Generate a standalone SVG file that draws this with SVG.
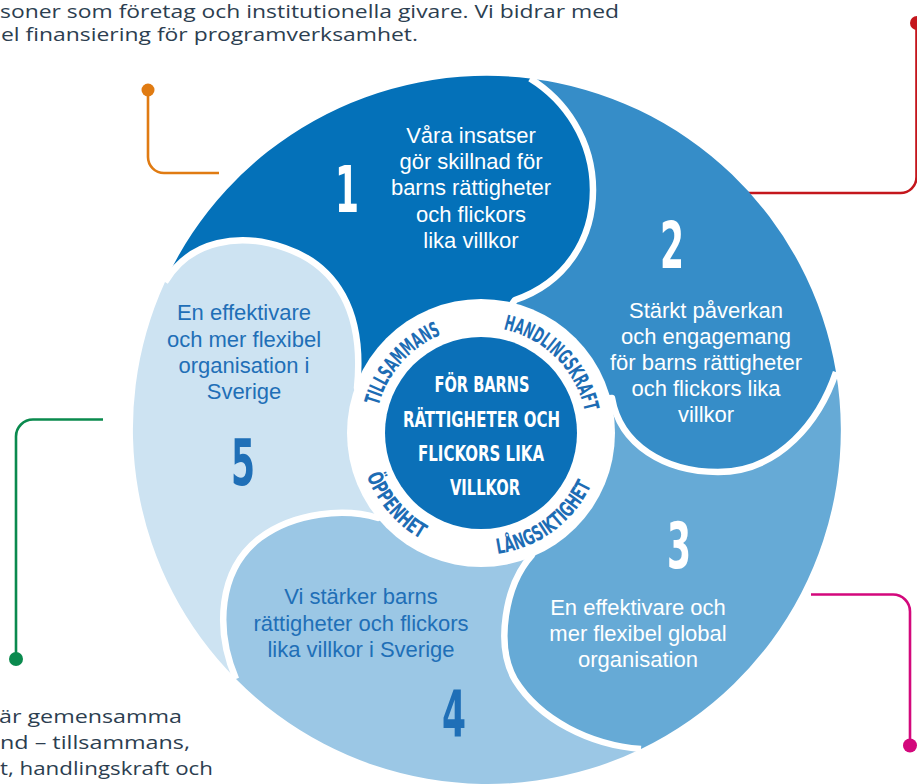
<svg xmlns="http://www.w3.org/2000/svg" width="917" height="784" viewBox="0 0 917 784">
<defs>
<style>
.pt{font-family:"Liberation Sans",Arial,Helvetica,sans-serif;font-size:22px;text-anchor:middle}
.w{fill:#ffffff}
.b{fill:#1f6fb7}
.num{font-family:"Liberation Sans Narrow","DejaVu Sans Condensed","Liberation Sans",sans-serif;font-weight:bold;font-size:64px;text-anchor:middle}
.ring{font-family:"Liberation Sans Narrow","DejaVu Sans Condensed","Liberation Sans",sans-serif;font-weight:bold;font-size:21px;fill:#1d6cb4}
.ctr{font-family:"Liberation Sans Narrow","DejaVu Sans Condensed","Liberation Sans",sans-serif;font-weight:bold;font-size:22px;fill:#ffffff;text-anchor:middle}
.sep{fill:none;stroke:#ffffff;stroke-width:6.5;stroke-linejoin:round}
.body{font-family:"Open Sans","Lato","Liberation Sans",sans-serif;font-size:19px;fill:#2c3e50}
.con{fill:none;stroke-width:2.6}
</style>
<path id="arcT" d="M378.6,405.6 A106,106 0 0 1 462.6,328.6"/>
<path id="arcH" d="M503.4,329.4 A106,106 0 0 1 587,433"/>
<path id="arcO" d="M366.7,475.7 A122,122 0 0 0 459.8,553.1"/>
<path id="arcL" d="M497.6,553.9 A122,122 0 0 0 601.1,454.2"/>
</defs>

<g id="intro-text">
<text class="body" x="0" y="17.5" textLength="619" lengthAdjust="spacingAndGlyphs">soner som företag och institutionella givare. Vi bidrar med</text>
<text class="body" x="1" y="40.5" textLength="417" lengthAdjust="spacingAndGlyphs">el finansiering för programverksamhet.</text>
</g>

<g id="values-text">
<text class="body" x="-1" y="723" textLength="183" lengthAdjust="spacingAndGlyphs">är gemensamma</text>
<text class="body" x="0" y="749" textLength="190" lengthAdjust="spacingAndGlyphs">nd – tillsammans,</text>
<text class="body" x="0" y="775" textLength="213" lengthAdjust="spacingAndGlyphs">t, handlingskraft och</text>
</g>

<g id="connectors">
<path class="con" stroke="#e07b12" d="M148,90 V157 A16,16 0 0 0 164,173 H219"/>
<circle cx="148" cy="90" r="6.5" fill="#e07b12"/>
<path class="con" stroke="#c4161c" d="M916.5,23 V177 A16,16 0 0 1 900.5,193 H747"/>
<circle cx="917" cy="23" r="7" fill="#c4161c"/>
<path class="con" stroke="#0a8a4e" d="M103,419.5 H33 A17,17 0 0 0 16,436.5 V659"/>
<circle cx="16" cy="659" r="7" fill="#0a8a4e"/>
<path class="con" stroke="#d3087c" d="M811,594.5 H893 A17,17 0 0 1 910,611.5 V745"/>
<circle cx="910" cy="745.5" r="7" fill="#d3087c"/>
</g>

<g id="petal1">
<path fill="#0471b9" d="M165,282 A354,354 0 0 1 530,78.5 C565,100 593,140 593,190 C593,240 565,283 515,300 L481,433 L357,388 C365,310 335,265 285,248 C240,232 190,240 165,282 Z"/>
<text class="pt w"><tspan x="471" y="143">Våra insatser</tspan><tspan x="471" y="169.2">gör skillnad för</tspan><tspan x="471" y="195.4">barns rättigheter</tspan><tspan x="471" y="221.6">och flickors</tspan><tspan x="471" y="247.8">lika villkor</tspan></text>
<text class="num w" x="347" y="212" textLength="24" lengthAdjust="spacingAndGlyphs">1</text>
</g>

<g id="petal2">
<path fill="#368dc8" d="M530,78.5 A354,354 0 0 1 836,372 C820,420 780,472 718,472 C665,472 620,445 612,398 L481,433 L515,300 C565,283 593,240 593,190 C593,140 565,100 530,78.5 Z"/>
<text class="pt w"><tspan x="706" y="318">Stärkt påverkan</tspan><tspan x="706" y="344.1">och engagemang</tspan><tspan x="706" y="370.2">för barns rättigheter</tspan><tspan x="706" y="396.3">och flickors lika</tspan><tspan x="706" y="422.4">villkor</tspan></text>
<text class="num w" x="672" y="268" textLength="24" lengthAdjust="spacingAndGlyphs">2</text>
</g>

<g id="petal3">
<path fill="#66aad6" d="M836,372 A354,354 0 0 1 641,749 C590,745 540,720 515,680 C495,645 505,585 532,555 L481,433 L612,398 C620,445 665,472 718,472 C780,472 820,420 836,372 Z"/>
<text class="pt w"><tspan x="638" y="615">En effektivare och</tspan><tspan x="638" y="641">mer flexibel global</tspan><tspan x="638" y="667">organisation</tspan></text>
<text class="num w" x="679" y="568" textLength="24" lengthAdjust="spacingAndGlyphs">3</text>
</g>

<g id="petal4">
<path fill="#9bc7e5" d="M641,749 A354,354 0 0 1 236,679 C215,630 218,570 260,538 C295,512 345,508 378,518 L481,433 L532,555 C505,585 495,645 515,680 C540,720 590,745 641,749 Z"/>
<text class="pt b"><tspan x="361" y="604">Vi stärker barns</tspan><tspan x="361" y="630.5">rättigheter och flickors</tspan><tspan x="361" y="657">lika villkor i Sverige</tspan></text>
<text class="num b" x="454" y="737" textLength="24" lengthAdjust="spacingAndGlyphs">4</text>
</g>

<g id="petal5">
<path fill="#cde3f2" d="M236,679 A354,354 0 0 1 165,282 C190,240 240,232 285,248 C335,265 365,310 357,388 L481,433 L378,518 C345,508 295,512 260,538 C218,570 215,630 236,679 Z"/>
<text class="pt b"><tspan x="244" y="320">En effektivare</tspan><tspan x="244" y="346.5">och mer flexibel</tspan><tspan x="244" y="373">organisation i</tspan><tspan x="244" y="398.5">Sverige</tspan></text>
<text class="num b" x="243" y="485" textLength="24" lengthAdjust="spacingAndGlyphs">5</text>
</g>

<g id="petal-borders">
<path class="sep" d="M530,78.5 C565,100 593,140 593,190 C593,240 565,283 515,300 L500,320"/>
<path class="sep" d="M836,372 C820,420 780,472 718,472 C665,472 620,445 612,398 L590,400"/>
<path class="sep" d="M641,749 C590,745 540,720 515,680 C495,645 505,585 532,555 L520,530"/>
<path class="sep" d="M236,679 C215,630 218,570 260,538 C295,512 345,508 378,518 L400,500"/>
<path class="sep" d="M165,282 C190,240 240,232 285,248 C335,265 365,310 357,388 L375,400"/>
</g>

<g id="center">
<circle cx="481" cy="433" r="134" fill="#ffffff"/>
<circle cx="481" cy="433" r="96" fill="#0b70b8"/>
<text class="ctr" x="482" y="392" textLength="95" lengthAdjust="spacingAndGlyphs">FÖR BARNS</text>
<text class="ctr" x="481.5" y="426.5" textLength="157" lengthAdjust="spacingAndGlyphs">RÄTTIGHETER OCH</text>
<text class="ctr" x="481" y="461" textLength="126" lengthAdjust="spacingAndGlyphs">FLICKORS LIKA</text>
<text class="ctr" x="485" y="494.5" textLength="70" lengthAdjust="spacingAndGlyphs">VILLKOR</text>
<text class="ring"><textPath href="#arcT" textLength="98" lengthAdjust="spacingAndGlyphs">TILLSAMMANS</textPath></text>
<text class="ring"><textPath href="#arcH" textLength="122" lengthAdjust="spacingAndGlyphs">HANDLINGSKRAFT</textPath></text>
<text class="ring"><textPath href="#arcO" textLength="85" lengthAdjust="spacingAndGlyphs">ÖPPENHET</textPath></text>
<text class="ring"><textPath href="#arcL" textLength="121" lengthAdjust="spacingAndGlyphs">LÅNGSIKTIGHET</textPath></text>
</g>
</svg>
